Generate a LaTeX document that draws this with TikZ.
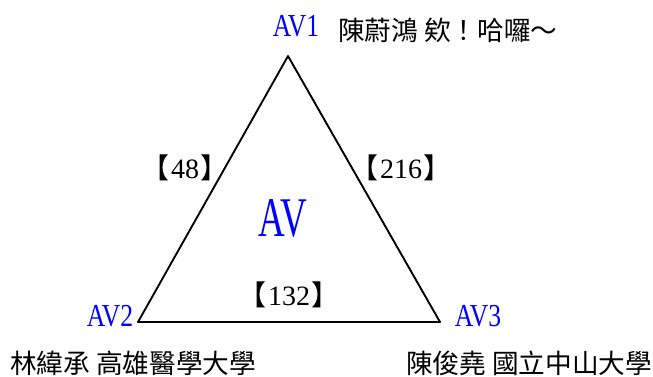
\documentclass[tikz,border=0pt]{standalone}
\usepackage{fontspec}
\setmainfont{Liberation Serif}
\newfontfamily\narrowfont[FakeStretch=0.8]{Liberation Serif}
\newfontfamily\bignarrowfont[FakeStretch=0.66]{Liberation Serif}
\newfontfamily\cjk{Noto Sans CJK TC}
\newcommand{\edgeval}[1]{{\cjk【}\kern0.04em#1\kern0.04em{\cjk】}}

\begin{document}
\begin{tikzpicture}[x=0.75pt, y=-0.75pt, line join=round]
    \tikzset{
        vlabel/.style={text=blue, font=\narrowfont\fontsize{24}{24}\selectfont, inner sep=0pt},
        wlabel/.style={font=\fontsize{21}{21}\selectfont, inner sep=0pt},
        names/.style={font=\cjk\fontsize{20}{20}\selectfont, anchor=west, inner sep=0pt}
    }
    \useasboundingbox (0,0) rectangle (653,376);

    % Define coordinates
    \coordinate (T) at (288,56);
    \coordinate (L) at (138,322);
    \coordinate (R) at (440,322);

    % Draw the triangle
    \draw[line width=1.4pt] (T) -- (L) -- (R) -- cycle;

    % Label vertices
    \node[vlabel] (av1) at (296,26) {AV1};
    \node[vlabel] (av2) at (110,316) {AV2};
    \node[vlabel] (av3) at (478,316) {AV3};
    \node[text=blue, font=\bignarrowfont\fontsize{42}{42}\selectfont, inner sep=0pt] (av) at (283,218) {AV};

    % Label edges
    \node[wlabel] (w12) at (185,168) {\edgeval{48}};
    \node[wlabel] (w13) at (401,168) {\edgeval{216}};
    \node[wlabel] (w23) at (289,295) {\edgeval{132}};

    % Names
    \node[names] (n1) at (338,30) {陳蔚鴻 欸！哈囉～};
    \node[names] (n2) at (10,363) {林緯承 高雄醫學大學};
    \node[names] (n3) at (406,363) {陳俊堯 國立中山大學};
\end{tikzpicture}
\end{document}
